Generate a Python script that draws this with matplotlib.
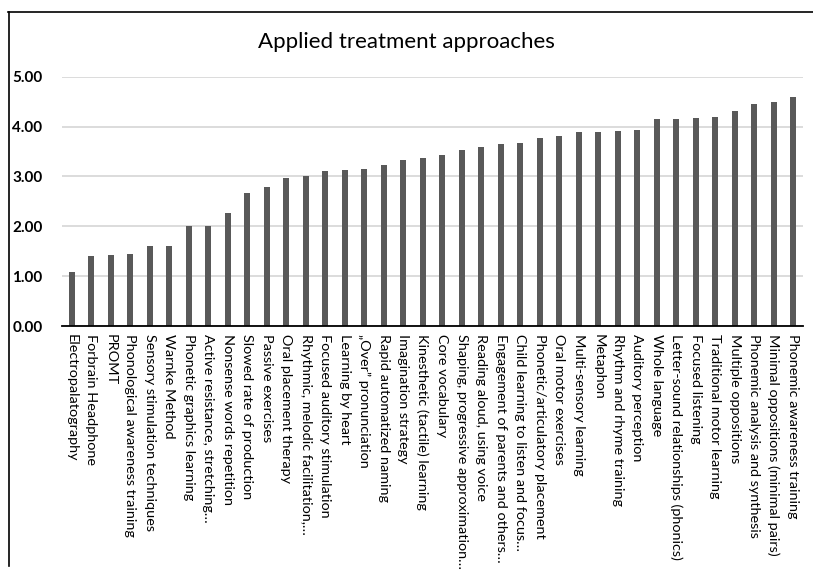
import matplotlib
matplotlib.use("Agg")
import matplotlib.pyplot as plt
from matplotlib.lines import Line2D

plt.rcParams['font.family'] = ['Lato', 'DejaVu Sans']

approaches = [
    "Electropalatography",
    "Forbrain Headphone",
    "PROMT",
    "Phonological awareness training",
    "Sensory stimulation techniques",
    "Warnke Method",
    "Phonetic graphics learning",
    "Active resistance, stretching\u2026",
    "Nonsense words repetition",
    "Slowed rate of production",
    "Passive exercises",
    "Oral placement therapy",
    "Rhythmic, melodic facilitation,\u2026",
    "Focused auditory stimulation",
    "Learning by heart",
    "\u201eOver\u201d pronunciation",
    "Rapid automatized naming",
    "Imagination strategy",
    "Kinesthetic (tactile) learning",
    "Core vocabulary",
    "Shaping, progressive approximation\u2026",
    "Reading aloud, using voice",
    "Engagement of parents and others\u2026",
    "Child learning to listen and focus\u2026",
    "Phonetic/articulatory placement",
    "Oral motor exercises",
    "Multi-sensory learning",
    "Metaphon",
    "Rhythm and rhyme training",
    "Auditory perception",
    "Whole language",
    "Letter-sound relationships (phonics)",
    "Focused listening",
    "Traditional motor learning",
    "Multiple oppositions",
    "Phonemic analysis and synthesis",
    "Minimal oppositions (minimal pairs)",
    "Phonemic awareness training",
]

mean_scores = [
    1.08, 1.40, 1.42, 1.45, 1.60, 1.60, 2.00, 2.00, 2.26, 2.67,
    2.78, 2.96, 3.01, 3.11, 3.13, 3.15, 3.23, 3.33, 3.37, 3.42,
    3.53, 3.59, 3.65, 3.67, 3.77, 3.81, 3.89, 3.89, 3.91, 3.93,
    4.15, 4.15, 4.18, 4.19, 4.31, 4.45, 4.50, 4.59,
]

y_ticks = [0, 1, 2, 3, 4, 5]

fig = plt.figure(figsize=(8.13, 5.75), dpi=100)
ax = fig.add_axes([0.0763, 0.433, 0.9114, 0.4336])

x = range(len(approaches))
ax.bar(x, mean_scores, width=0.31, color='#595959', zorder=3)

ax.set_xlim(-0.5, len(approaches) - 0.5)
ax.set_ylim(0, 5)
ax.set_yticks(y_ticks)
ax.set_yticklabels(["%.2f" % v for v in y_ticks], fontsize=11, fontweight='bold')
ax.set_xticks(list(x))
ax.set_xticklabels(approaches, rotation=-90, fontsize=10.4, ha='center', va='top')

ax.grid(axis='y', color='#d9d9d9', linewidth=1.3, zorder=0)
for side in ['left', 'right', 'top']:
    ax.spines[side].set_visible(False)
ax.spines['bottom'].set_color('black')
ax.spines['bottom'].set_linewidth(1.3)
ax.spines['bottom'].set_zorder(4)
ax.tick_params(axis='both', length=0)
ax.tick_params(axis='y', pad=14)
ax.tick_params(axis='x', pad=6)

fig.text(0.5, 1 - 42 / 575, "Applied treatment approaches", ha='center', va='center', fontsize=16)

# frame around the chart area
W, H = 813, 575
fig.add_artist(Line2D([8.5 / W, 8.5 / W], [1 - 11.5 / H, 1 - 566 / H], color='black', linewidth=1.2))
fig.add_artist(Line2D([8 / W, 1.0], [1 - 11.5 / H, 1 - 11.5 / H], color='black', linewidth=1.2))

fig.savefig("out.png", dpi=100)
